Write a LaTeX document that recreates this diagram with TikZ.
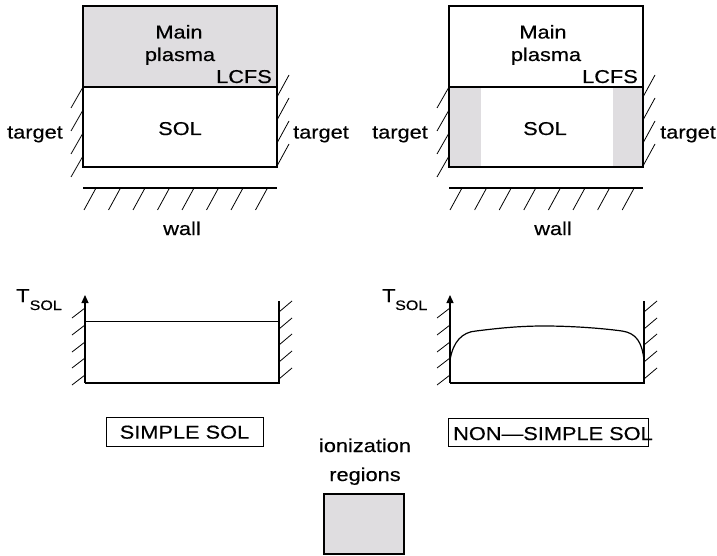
\documentclass[tikz,border=0pt]{standalone}
\usepackage{fontspec}
\setmainfont{Liberation Sans}[FakeStretch=1.17,FakeBold=0.4]
\usetikzlibrary{arrows.meta}
\definecolor{ionfill}{RGB}{223,221,224}
\newcommand\lbfont{\fontsize{18.6}{22}\selectfont}
\newcommand\subfont{\fontsize{13.7}{16}\selectfont}
\begin{document}
\begin{tikzpicture}[x=1pt,y=-1pt,
  boxln/.style={draw=black, line width=1.3pt, inner sep=0pt, outer sep=0pt, anchor=north west},
  hatch/.style={line width=0.8pt},
  lbl/.style={font=\lbfont, inner sep=0pt, anchor=base},
  sublbl/.style={font=\subfont, inner sep=0pt, anchor=base west},
  axln/.style={line width=1.2pt},
  axarrow/.style={line width=1.2pt, -{Triangle[width=7pt,length=8pt]}},
  curveln/.style={line width=1.2pt}]
\useasboundingbox (0,0) rectangle (717,556);

% ---------- upper left ----------
\node[boxln, fill=ionfill, minimum width=194pt, minimum height=81pt] (mpL) at (83,6) {};
\node[boxln, minimum width=194pt, minimum height=80pt] (solL) at (83,87) {};
\node[lbl] (mainL) at (179,38.5) {Main};
\node[lbl] (plasL) at (180,61) {plasma};
\node[lbl, anchor=base east] (lcfsL) at (272,83) {LCFS};
\node[lbl] (soltxtL) at (180,135) {SOL};
\node[lbl] (tgtLL) at (35,138.5) {target};
\node[lbl] (tgtLR) at (321,138.5) {target};
\foreach \t in {87,110,133,156} \draw[hatch] (83,\t) -- (71,\t+21);
\foreach \t in {75,98,121,144} \draw[hatch] (289,\t) -- (277,\t+22);
\coordinate (wLa) at (83,188);
\coordinate (wLb) at (277,188);
\draw[line width=1.3pt] (wLa) -- (wLb);
\foreach \i in {0,...,7} \draw[hatch] ({96+24.5*\i},188) -- ({84+24.5*\i},210);
\node[lbl] (wallL) at (182,235) {wall};

% ---------- upper right ----------
\node[boxln, minimum width=194pt, minimum height=81pt] (mpR) at (449,6) {};
\fill[ionfill] (449,87) rectangle (481,167);
\fill[ionfill] (613,87) rectangle (643,167);
\node[boxln, minimum width=194pt, minimum height=80pt] (solR) at (449,87) {};
\node[lbl] (mainR) at (543,38.5) {Main};
\node[lbl] (plasR) at (546,61) {plasma};
\node[lbl, anchor=base east] (lcfsR) at (638,83) {LCFS};
\node[lbl] (soltxtR) at (545,135) {SOL};
\node[lbl] (tgtRL) at (400,138.5) {target};
\node[lbl] (tgtRR) at (688,138.5) {target};
\foreach \t in {87,110,133,156} \draw[hatch] (449,\t) -- (437,\t+21);
\foreach \t in {75,98,121,144} \draw[hatch] (655,\t) -- (643,\t+22);
\coordinate (wRa) at (449,188);
\coordinate (wRb) at (643,188);
\draw[line width=1.3pt] (wRa) -- (wRb);
\foreach \i in {0,...,7} \draw[hatch] ({462+24.6*\i},188) -- ({450+24.6*\i},210);
\node[lbl] (wallR) at (553,235) {wall};

% ---------- lower left ----------
\coordinate (oL) at (85,383);
\coordinate (aL) at (85,295);
\coordinate (eL) at (279,383);
\coordinate (rtL) at (279,301);
\draw[axarrow] (oL) -- (aL);
\draw[axln] (oL) -- (eL) -- (rtL);
\coordinate (tLa) at (85,321.5);
\coordinate (tLb) at (279,321.5);
\draw[axln] (tLa) -- (tLb);
\foreach \t in {308,325,342,358,375} \draw[hatch] (85,\t) -- (72,\t+10);
\foreach \t in {301,318,334,351,368} \draw[hatch] (292,\t) -- (279,\t+11);
\node[lbl, anchor=base west] (TL) at (16,302) {T};
\node[sublbl] (TLs) at (29.5,310) {SOL};
\node[draw, line width=1pt, font=\lbfont, inner sep=0pt, minimum width=157pt, minimum height=29pt] (simple) at (184.5,432.2) {SIMPLE SOL};

% ---------- lower right ----------
\coordinate (oR) at (450,383);
\coordinate (aR) at (450,295);
\coordinate (eR) at (644,383);
\coordinate (rtR) at (644,301);
\draw[axarrow] (oR) -- (aR);
\draw[axln] (oR) -- (eR) -- (rtR);
\foreach \t in {308,325,342,358,375} \draw[hatch] (450,\t) -- (437,\t+10);
\foreach \t in {301,318,334,351,368} \draw[hatch] (657,\t) -- (644,\t+11);
\coordinate (c0) at (450,360);
\coordinate (c1) at (476,331);
\coordinate (c2) at (544,326);
\coordinate (c3) at (622,331);
\coordinate (c4) at (644,360);
\draw[curveln] (c0) .. controls (453,342) and (462,332) .. (c1)
  .. controls (500,328) and (520,326) .. (c2)
  .. controls (570,326) and (600,328) .. (c3)
  .. controls (636,333) and (642,342) .. (c4);
\node[lbl, anchor=base west] (TR) at (382,302) {T};
\node[sublbl] (TRs) at (395,310) {SOL};
\node[draw, line width=1pt, inner sep=0pt, outer sep=0pt, anchor=north west, minimum width=200pt, minimum height=28.5pt] (nsbox) at (448,418) {};
\node[lbl, anchor=base west] (nstxt) at (453,440) {NON\char"2014 SIMPLE SOL};

% ---------- legend ----------
\node[lbl] (ion1) at (365,452) {ionization};
\node[lbl] (ion2) at (365,481) {regions};
\node[draw, line width=1.1pt, fill=ionfill, inner sep=0pt, outer sep=0pt, anchor=north west, minimum width=80pt, minimum height=60pt] (legbox) at (324,494) {};
\end{tikzpicture}
\end{document}
